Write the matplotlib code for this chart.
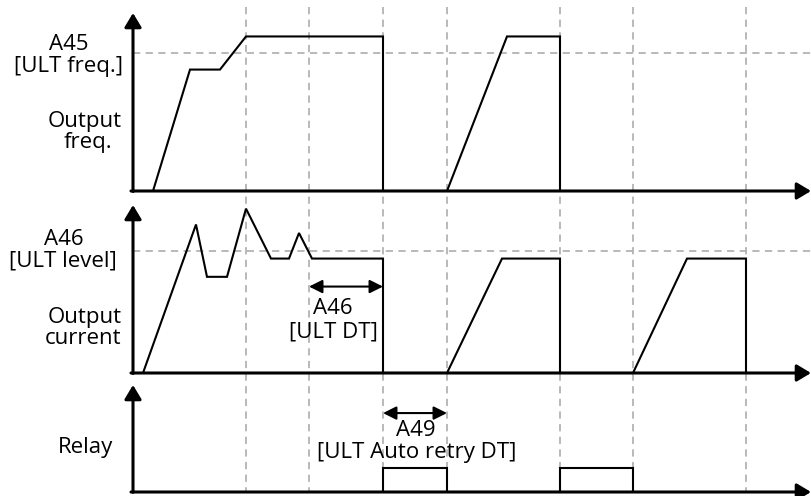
import matplotlib
matplotlib.use("Agg")
import matplotlib.pyplot as plt

plt.rcParams['font.family'] = ['Open Sans', 'DejaVu Sans']

# event times (vertical dashed guides)
event_t = [11.3, 17.6, 25.0, 31.4, 42.7, 50.0, 61.3]
t_end = 67.8

# output frequency (% of A45 ULT freq.)
freq_t = [2.0, 5.7, 8.7, 11.3, 25.0, 25.0, 31.4, 37.4, 42.7, 42.7]
freq_v = [0, 88, 88, 112, 112, 0, 0, 112, 112, 0]
ult_freq = 100

# output current (% of A46 ULT level)
cur_t = [1.0, 6.3, 7.4, 9.4, 11.3, 13.8, 15.6, 16.6, 17.9, 25.0, 25.0,
         31.4, 36.9, 42.7, 42.7, 50.0, 55.4, 61.3, 61.3]
cur_v = [0, 122, 79, 79, 135, 94, 94, 115, 94, 94, 0,
         0, 94, 94, 0, 0, 94, 94, 0]
ult_level = 100

# relay output
relay_t = [25.0, 25.0, 31.4, 31.4, 42.7, 42.7, 50.0, 50.0]
relay_v = [0, 1, 1, 0, 0, 1, 1, 0]

# spans marked by double arrows
ult_dt = (17.6, 25.0)
retry_dt = (25.0, 31.4)

W, H = 811, 496
fig = plt.figure(figsize=(W / 100, H / 100), dpi=100)

x0 = 133 / W
wid = (W - 133) / W
dash_col = '#b3b3b3'
sig_lw = 1.5
axis_lw = 2.2


def fy(py):
    return 1 - py / H


# background for vertical guides
bg = fig.add_axes([x0, 0, wid, 1])
bg.set_xlim(0, t_end)
bg.set_ylim(H, 0)
bg.axis('off')
bg.vlines(event_t, 7, 492, colors=dash_col, linestyles=(0, (4, 3)), lw=1.3)


def panel(bottom_px, top_px, ymax):
    ax = fig.add_axes([x0, fy(bottom_px), wid, (bottom_px - top_px) / H])
    ax.set_xlim(0, t_end)
    ax.set_ylim(0, ymax)
    ax.patch.set_alpha(0)
    ax.axis('off')
    arr = dict(arrowstyle='-|>,head_length=0.5,head_width=0.3', lw=axis_lw,
               color='black', mutation_scale=17, shrinkA=0, shrinkB=0)
    ax.annotate('', xy=(0, 1), xytext=(0, -0.003), xycoords='axes fraction',
                arrowprops=arr)
    ax.annotate('', xy=(1, 0), xytext=(-0.003, 0), xycoords='axes fraction',
                arrowprops=arr)
    return ax


ax1 = panel(191, 13, 129)
ax1.axhline(ult_freq, color=dash_col, ls=(0, (4, 3)), lw=1.3, zorder=0)
ax1.plot(freq_t, freq_v, color='black', lw=sig_lw, solid_joinstyle='miter')

ax2 = panel(373, 205, 138)
ax2.axhline(ult_level, color=dash_col, ls=(0, (4, 3)), lw=1.3, zorder=0)
ax2.plot(cur_t, cur_v, color='black', lw=sig_lw, solid_joinstyle='miter')

ax3 = panel(492, 385, 4.46)
ax3.plot(relay_t, relay_v, color='black', lw=sig_lw, solid_joinstyle='miter')

dbl = dict(arrowstyle='<|-|>,head_length=0.5,head_width=0.25', lw=1.5,
           color='black', mutation_scale=16, shrinkA=0, shrinkB=0)
ax2.annotate('', xy=(ult_dt[1], 71), xytext=(ult_dt[0], 71), arrowprops=dbl)
ax2.text(20.0, 53, 'A46', ha='center', va='center', fontsize=16)
ax2.text(20.0, 34, '[ULT DT]', ha='center', va='center', fontsize=16)

ax3.annotate('', xy=(retry_dt[1], 3.29), xytext=(retry_dt[0], 3.29), arrowprops=dbl)
ax3.text(28.3, 2.58, 'A49', ha='center', va='center', fontsize=16)
ax3.text(28.4, 1.63, '[ULT Auto retry DT]', ha='center', va='center', fontsize=16)

# left labels
labels = [('A45', 69, 45), ('[ULT freq.]', 69, 67),
          ('Output', 85, 121), ('freq.', 88, 142),
          ('A46', 64, 239), ('[ULT level]', 63, 261),
          ('Output', 85, 318), ('current', 83, 339),
          ('Relay', 85, 448)]
for s, px, py in labels:
    fig.text(px / W, fy(py), s, ha='center', va='center', fontsize=16)

fig.savefig('out.png', dpi=100)
